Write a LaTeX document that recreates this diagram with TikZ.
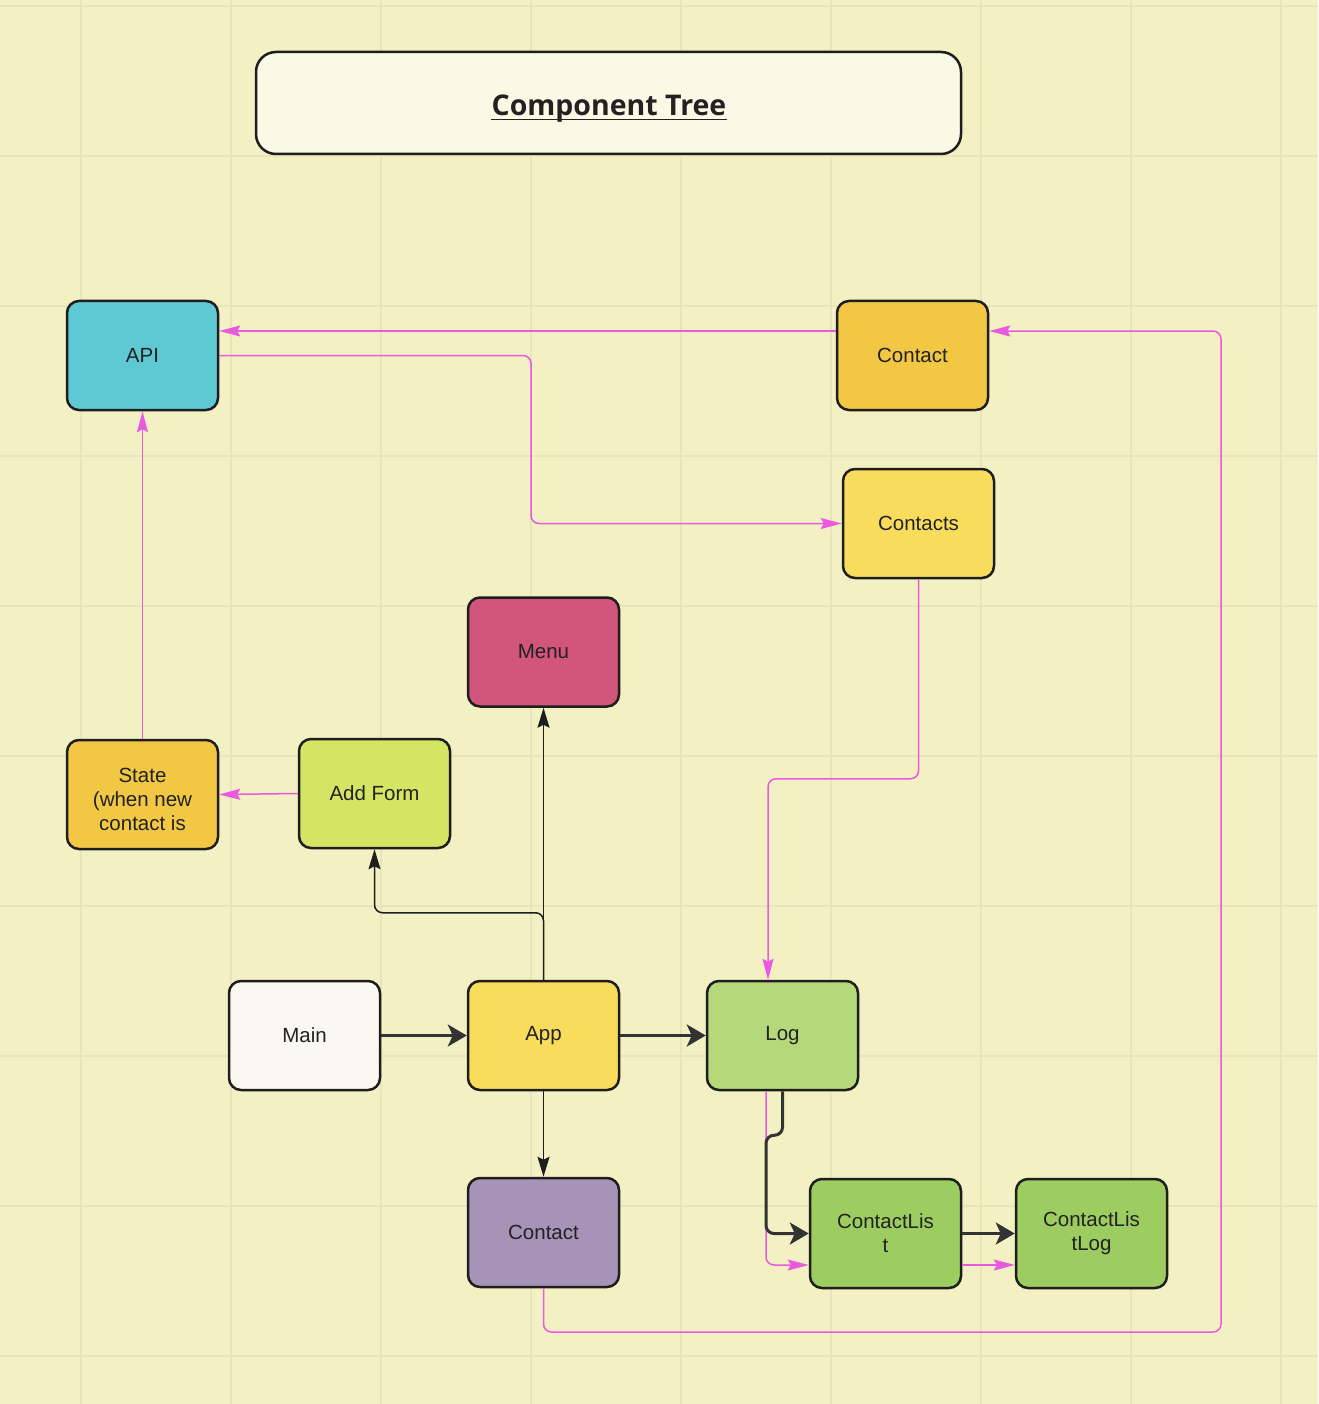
\documentclass[tikz,border=0pt]{standalone}
\usepackage{fontspec}
\setmainfont{Liberation Sans}
\newfontfamily\titlefont{Open Sans}
\usetikzlibrary{arrows.meta,calc}
\definecolor{bgc}{HTML}{F3F1C4}
\definecolor{gridc}{HTML}{E8E4BC}
\definecolor{titlefill}{HTML}{FAF9E6}
\definecolor{edge}{HTML}{1E1E1E}
\definecolor{txt}{HTML}{222222}
\definecolor{pk}{HTML}{EA5ADF}
\definecolor{cApi}{HTML}{5FC9D3}
\definecolor{cOrange}{HTML}{F2C744}
\definecolor{cYellow}{HTML}{F9DC5C}
\definecolor{cMenu}{HTML}{D1557C}
\definecolor{cForm}{HTML}{D4E563}
\definecolor{cMain}{HTML}{FAF8F0}
\definecolor{cLog}{HTML}{B4D87A}
\definecolor{cPurple}{HTML}{A792B8}
\definecolor{cGreen}{HTML}{9DCD60}
\tikzset{
  boxtext/.style={inner sep=0pt, align=center, text=txt, font=\fontsize{20.5}{24}\selectfont},
  box/.style={rectangle, rounded corners=12pt, draw=edge, line width=2.5pt,
    minimum width=151pt, minimum height=109pt, boxtext},
  pkline/.style={draw=pk, line width=1.5pt, rounded corners=8pt,
    -{Stealth[length=21pt,width=11pt,inset=3pt]}},
  thinline/.style={draw=edge, line width=1.5pt, rounded corners=8pt,
    -{Stealth[length=20pt,width=12pt,inset=3pt]}},
  thickline/.style={draw=black!80, line width=3pt, rounded corners=8pt,
    -{Stealth[length=19pt,width=22pt,inset=5pt]}},
}
\begin{document}
\begin{tikzpicture}[x=1pt,y=-1pt]
\fill[bgc] (0,0) rectangle (1318,1404);
\useasboundingbox (0,0) rectangle (1318,1404);
\foreach \gx in {81,231,...,1281} \draw[gridc, line width=2pt] (\gx,0) -- (\gx,1404);
\foreach \gy in {6,156,...,1356} \draw[gridc, line width=2pt] (0,\gy) -- (1318,\gy);

% title
\node[rectangle, rounded corners=20pt, draw=edge, line width=2.5pt, fill=titlefill,
  minimum width=705pt, minimum height=102pt] (titlebox) at (608.5,103) {};
\node[inner sep=0pt, text=txt, font=\titlefont\bfseries\fontsize{28.5}{32}\selectfont] (titletext) at (609,109) {Component Tree};
\draw[txt, line width=1.6pt] ([yshift=-3.5pt]titletext.base west) -- ([yshift=-3.5pt]titletext.base east);

% nodes
\node[box, fill=cApi] (api) at (142.5,355.5) {API};
\node[box, fill=cOrange] (ctop) at (912.5,355.5) {Contact};
\node[box, fill=cYellow] (contacts) at (918.5,523.5) {Contacts};
\node[box, fill=cMenu] (menu) at (543.5,652) {Menu};
\node[box, fill=cOrange] (state) at (142.5,794.5) {};
\node[boxtext] (statetext) at (142.5,799.5) {State\\(when new\\contact is};
\node[box, fill=cForm] (addform) at (374.5,793.5) {Add Form};
\node[box, fill=cMain] (main) at (304.5,1035.5) {Main};
\node[box, fill=cYellow] (app) at (543.5,1035.5) {App};
\node[box, fill=cLog] (log) at (782.5,1035.5) {Log};
\node[box, fill=cPurple] (cp) at (543.5,1232.5) {Contact};
\node[box, fill=cGreen] (cl) at (885.5,1233.5) {ContactLis\\t};
\node[box, fill=cGreen] (cll) at (1091.5,1233.5) {ContactLis\\tLog};

% magenta connectors
\draw[pkline] ([yshift=24.5pt]ctop.west) -- ([yshift=24.5pt]api.east);
\draw[pkline] (api.east) -| (531,440) |- (contacts.west);
\draw[pkline] (state.north) -- (api.south);
\draw[pkline] (addform.west) -- (state.east);
\draw[pkline] (contacts.south) |- ($(log.north)+(-14.5,-201)$) -- ($(log.north)+(-14.5,0)$);
\draw[pkline] ([xshift=-16.5pt]log.south) |- ([yshift=-31.5pt]cl.west);
\draw[pkline] ([yshift=-31.5pt]cl.east) -- ([yshift=-31.5pt]cll.west);
\draw[pkline] (cp.south) |- (1221,1332) |- ([yshift=24.5pt]ctop.east);

% thin black connectors
\draw[thinline] (app.north) -- (menu.south);
\draw[thinline] (app.north) -- ++(0,-67) -| (addform.south);
\draw[thinline] (app.south) -- (cp.north);

% thick connectors
\draw[thickline] (main.east) -- (app.west);
\draw[thickline] (app.east) -- (log.west);
\draw[thickline] (log.south) -- ++(0,44) -- ++(-16.5,0) |- (cl.west);
\draw[thickline] (cl.east) -- (cll.west);
\end{tikzpicture}
\end{document}
